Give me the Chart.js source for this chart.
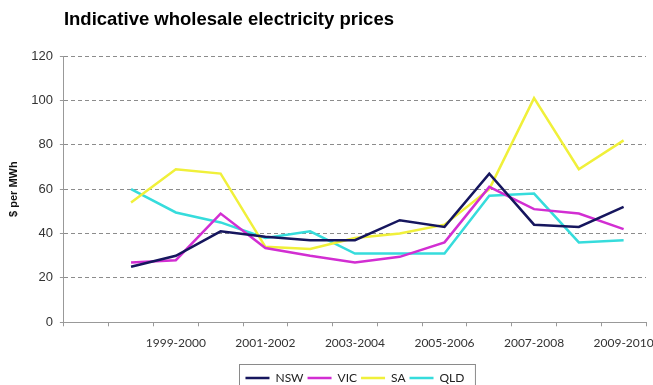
<!DOCTYPE html>
<html>
<head>
<meta charset="utf-8">
<script src="https://cdn.jsdelivr.net/npm/chart.js@4.4.1/dist/chart.umd.min.js"></script>
<style>
  html, body { margin: 0; padding: 0; background: #fff; }
  #wrap { width: 653px; height: 385px; }
</style>
</head>
<body>
<div id="wrap"><canvas id="myChart" width="653" height="385"></canvas></div>
<script>
// financial years on the category axis (first slot is empty in the original)
var years = ['1997-1998', '1998-1999', '1999-2000', '2000-2001', '2001-2002', '2002-2003',
    '2003-2004', '2004-2005', '2005-2006', '2006-2007', '2007-2008', '2008-2009', '2009-2010'];
var shownYears = ['1999-2000', '2001-2002', '2003-2004', '2005-2006', '2007-2008', '2009-2010'];

// $ per MWh
var nsw = [null, 25, 30, 41, 38.5, 37, 37, 46, 43, 67, 44, 43, 52];
var vic = [null, 27, 28, 49, 33.5, 30, 27, 29.5, 36, 61, 51, 49, 42];
var sa  = [null, 54, 69, 67, 34, 33, 38, 40, 44, 60, 101, 69, 82];
var qld = [null, 60, 49.5, 45, 38, 41, 31, 31, 31, 57, 58, 36, 37];

var yTicks = [0, 20, 40, 60, 80, 100, 120];

function series(label, data, color) {
    return {
        label: label,
        data: data,
        borderColor: color,
        backgroundColor: color,
        borderWidth: 2.5,
        pointRadius: 0,
        tension: 0,
        spanGaps: false
    };
}

// frame round the legend, like the Excel original
var legendFrame = {
    id: 'legendFrame',
    afterDraw: function (chart) {
        var boxes = chart.legend.legendHitBoxes;
        if (!boxes || !boxes.length) return;
        var first = boxes[0], last = boxes[boxes.length - 1];
        var mid = first.top + first.height / 2;
        var ctx = chart.ctx;
        ctx.save();
        ctx.strokeStyle = '#8a8a8a';
        ctx.lineWidth = 1;
        ctx.strokeRect(Math.round(first.left) - 5.5, Math.round(mid - 14) + 0.5,
            last.left + last.width - first.left + 17, 30);
        ctx.restore();
    }
};

function onSight() {
    var ctx = document.getElementById('myChart').getContext('2d');

    new Chart(ctx, {
        type: 'line',
        data: {
            labels: years,
            datasets: [
                series('NSW', nsw, '#16165e'),
                series('VIC', vic, '#d22ed2'),
                series('SA', sa, '#f0f03a'),
                series('QLD', qld, '#36dcdc')
            ]
        },
        options: {
            responsive: false,
            animation: false,
            layout: { padding: { left: 7, right: 7, top: 0, bottom: 0 } },
            plugins: {
                title: {
                    display: true,
                    text: 'Indicative wholesale electricity prices',
                    align: 'start',
                    fullSize: false,
                    color: '#000',
                    font: { family: 'Liberation Sans', size: 18.5, weight: 'bold' },
                    padding: { top: 8.5, bottom: 25.3 }
                },
                legend: {
                    position: 'bottom',
                    fullSize: false,
                    maxHeight: 17,
                    labels: {
                        boxWidth: 24,
                        boxHeight: 0,
                        padding: 4,
                        color: '#222',
                        font: { family: 'Lato', size: 12 }
                    }
                },
                tooltip: { enabled: false }
            },
            scales: {
                x: {
                    offset: true,
                    grid: {
                        offset: true,
                        drawOnChartArea: false,
                        drawTicks: true,
                        tickLength: 4,
                        color: '#999'
                    },
                    border: { color: '#999', width: 1 },
                    ticks: {
                        autoSkip: false,
                        maxRotation: 0,
                        padding: 10,
                        color: '#333',
                        font: { family: 'Lato', size: 12 },
                        callback: function (value, index) {
                            return shownYears.indexOf(years[index]) >= 0 ? years[index] : '';
                        }
                    },
                    afterFit: function (scale) {
                        scale.height = 45.7;
                        scale.paddingLeft = 0;
                        scale.paddingRight = 0;
                    }
                },
                y: {
                    min: 0,
                    max: 120,
                    afterBuildTicks: function (scale) {
                        scale.ticks = yTicks.map(function (v) { return { value: v }; });
                    },
                    grid: {
                        color: function (c) { return c.tick && c.tick.value === 0 ? 'rgba(0,0,0,0)' : '#8c8c8c'; },
                        tickColor: '#999',
                        tickLength: 4,
                        tickBorderDash: []
                    },
                    border: { color: '#999', width: 1, dash: [4, 3] },
                    ticks: {
                        padding: 7,
                        color: '#333',
                        font: { family: 'Liberation Sans', size: 13 }
                    },
                    title: {
                        display: true,
                        text: '$ per MWh',
                        color: '#111',
                        font: { family: 'Liberation Sans', size: 11, weight: 'bold' },
                        padding: { top: 0, bottom: 4 }
                    }
                }
            }
        },
        plugins: [legendFrame]
    });
}

document.addEventListener('DOMContentLoaded', onSight);
</script>
</body>
</html>
